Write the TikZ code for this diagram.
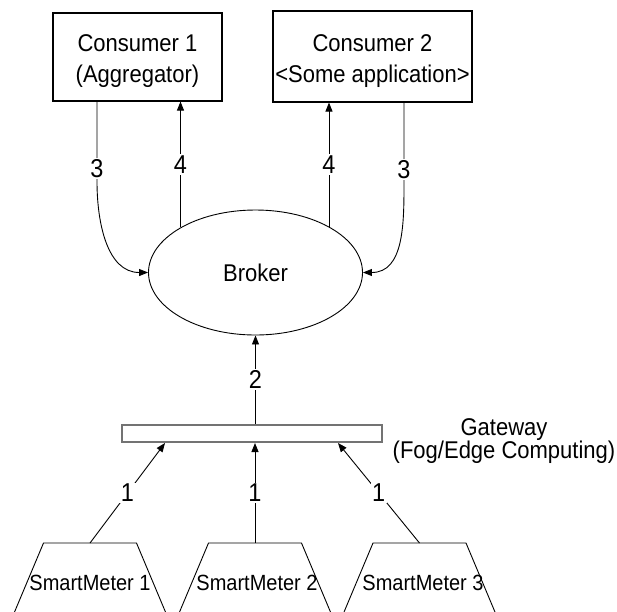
\documentclass[tikz,border=0pt]{standalone}
\usepackage{fontspec}
\setmainfont{Liberation Sans}
\usepackage{graphicx}
\usetikzlibrary{arrows.meta,shapes.geometric,calc}
% slightly taller lettering
\newcommand{\vs}[1]{\scalebox{1}[1.1]{#1}}
\begin{document}
\begin{tikzpicture}[x=1pt,y=-1pt,
  big/.style={font=\fontsize{22}{26}\selectfont},
  box/.style={draw, line width=1.1pt, inner sep=0pt, align=center,
    font=\fontsize{22}{31}\selectfont},
  num/.style={fill=white, inner sep=1.5pt, font=\fontsize{23.5}{27}\selectfont},
  arr/.style={line width=0.9pt, -{Triangle[length=9pt,width=7pt]}},
  meter/.style={line width=0.9pt},
  metertext/.style={font=\fontsize{20}{24}\selectfont, inner sep=0pt}]

\useasboundingbox (0,0) rectangle (617,611);
\fill[white] (0,0) rectangle (617,611);

% consumers (the strut lowers the two lines a little inside the box)
\node[box, minimum width=169pt, minimum height=88pt] (c1) at (137.5,57)
  {\rule{0pt}{26pt}\vs{Consumer 1}\\\vs{(Aggregator)}};
\node[box, minimum width=199pt, minimum height=91pt] (c2) at (372.5,56.5)
  {\rule{0pt}{26pt}\vs{Consumer 2}\\\vs{<Some application>}};

% broker
\node[ellipse, draw, line width=0.9pt, minimum width=214pt, minimum height=125pt,
  inner sep=0pt, big] (broker) at (255.5,272.5) {\vs{Broker}};

% gateway bar and its caption
\node[draw=black!55, line width=1.8pt, fill=white, minimum width=260.2pt,
  minimum height=17.2pt, inner sep=0pt] (gw) at (252,433.5) {};
\node[align=center, font=\fontsize{22}{25}\selectfont] (gwlabel) at (504,441)
  {\vs{Gateway}\\[-1.8pt]\vs{(Fog/Edge Computing)}};

% smart meters (trapezoids running off the bottom edge)
\coordinate (sm1) at (90,543);
\coordinate (sm2) at (255,543);
\coordinate (sm3) at (419.5,543);
\foreach \m in {sm1,sm2,sm3}
  \draw[meter] (\m) ++(-88.5,100) -- ++(42,-100) -- ++(93,0) -- ++(42,100);
\node[metertext] (m1) at (90,582.5) {\vs{SmartMeter 1}};
\node[metertext] (m2) at (257,582.5) {\vs{SmartMeter 2}};
\node[metertext] (m3) at (423,582.5) {\vs{SmartMeter 3}};

% step 1: meters to gateway
\draw[arr] (sm1) -- ([xshift=-87pt]gw.south) node[num,midway]{\vs{1}};
\draw[arr] (sm2) -- (sm2 |- gw.south) node[num,midway]{\vs{1}};
\draw[arr] (sm3) -- ([xshift=86pt]gw.south) node[num,midway]{\vs{1}};

% step 2: gateway to broker
\draw[arr] (broker.south |- gw.north) -- (broker.south) node[num,midway]{\vs{2}};

% step 3: consumers subscribe at the broker
\draw[arr] ([xshift=-40.5pt]c1.south) -- ++(0,80) node[num,pos=0.84]{\vs{3}}
  .. controls +(0,41) and +(-41,0) .. (broker.west);
\draw[arr] ([xshift=31.5pt]c2.south) -- ++(0,80) node[num,pos=0.84]{\vs{3}}
  .. controls +(0,41) and +(41,0) .. (broker.east);

% step 4: broker delivers to consumers
\draw[arr] (broker.149.5) -- (broker.149.5 |- c1.south) node[num,midway]{\vs{4}};
\draw[arr] (broker.32.4) -- (broker.32.4 |- c2.south) node[num,midway]{\vs{4}};
\end{tikzpicture}
\end{document}
